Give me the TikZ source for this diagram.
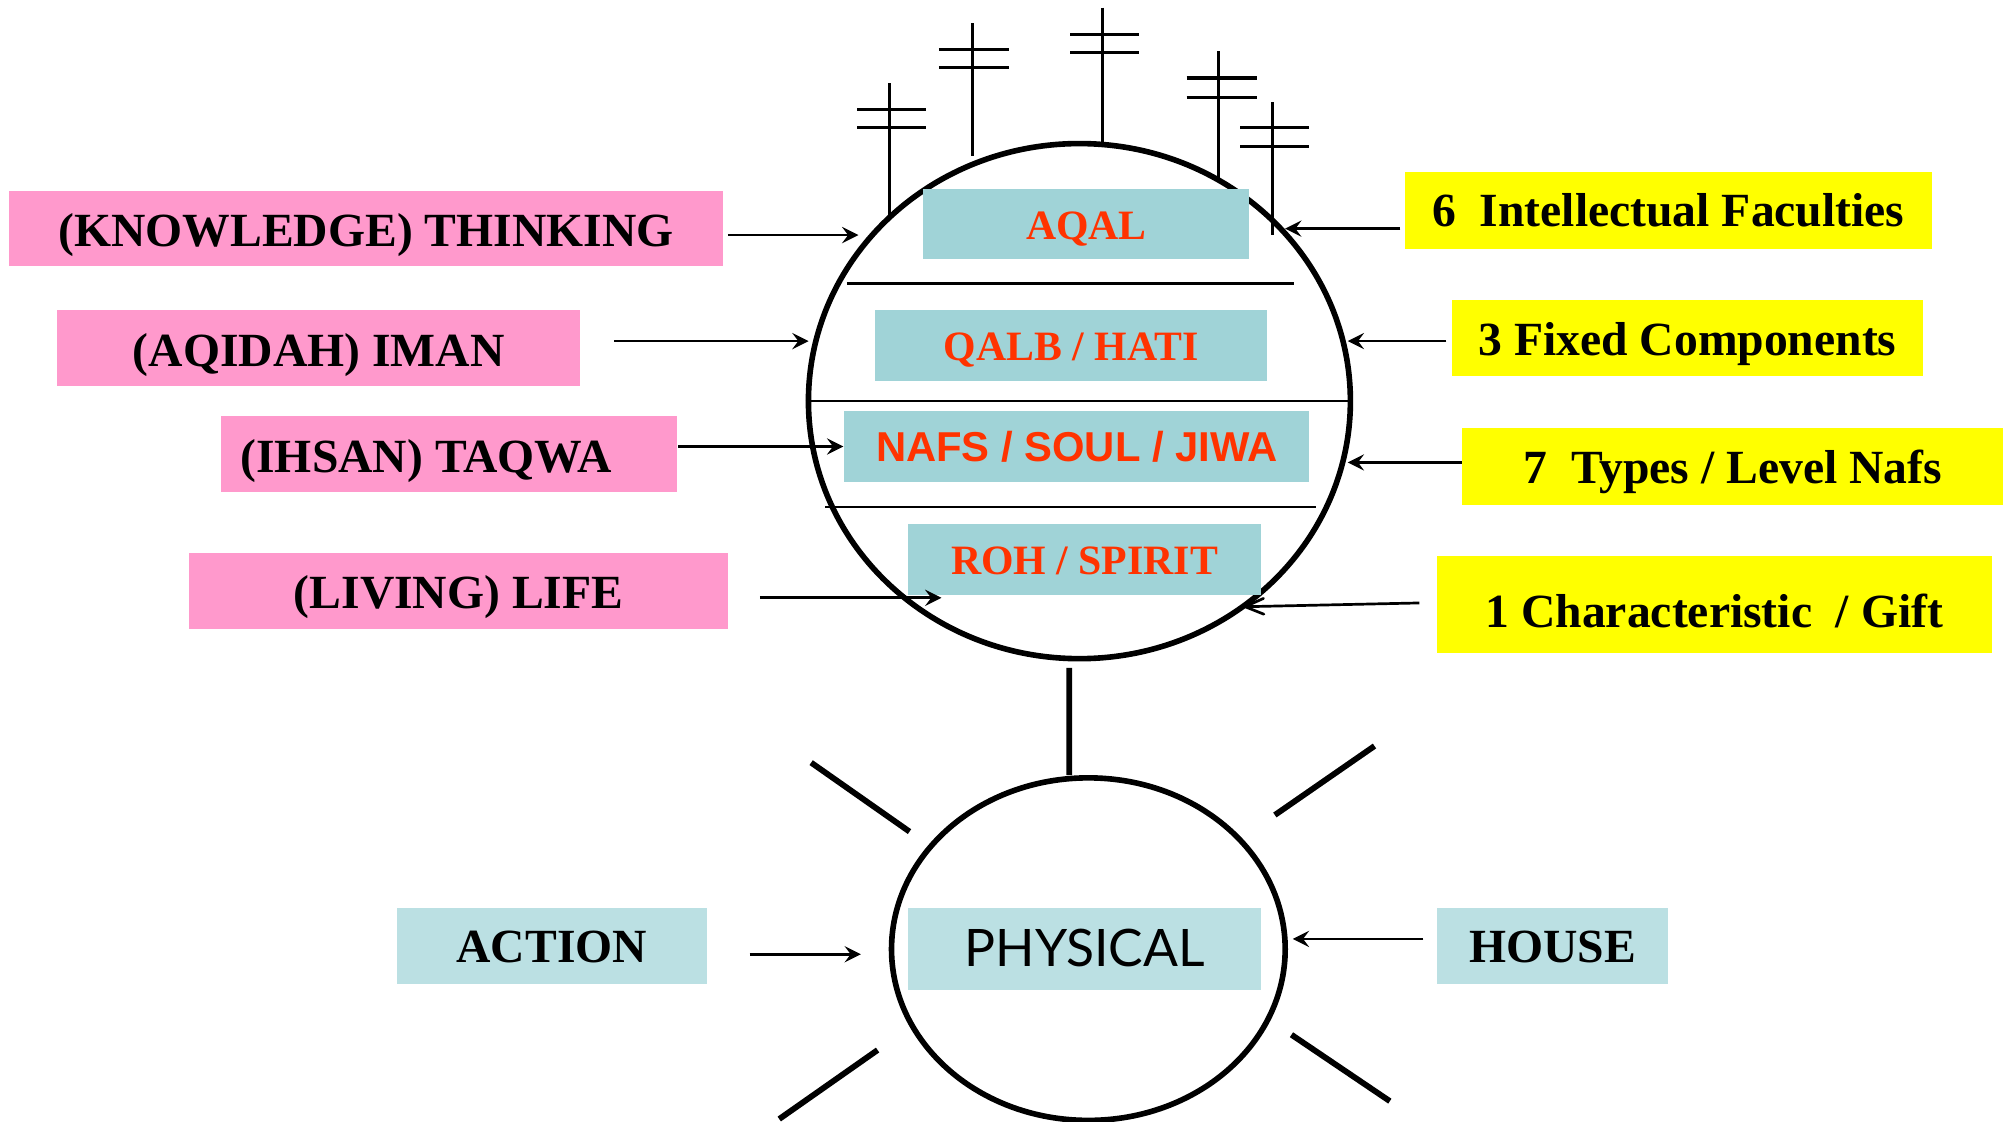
\documentclass[tikz,border=0pt]{standalone}
\usepackage{fontspec}
\setmainfont{Liberation Serif}
\newfontfamily\arialfont{Liberation Sans}
\newfontfamily\handfont{Lato}
\usetikzlibrary{shapes.geometric, arrows}
\definecolor{pinkfill}{HTML}{FF99CC}
\definecolor{yellowfill}{HTML}{FFFF00}
\definecolor{tealfill}{HTML}{A0D3D7}
\definecolor{lighttealfill}{HTML}{BBE0E3}
\definecolor{redtext}{HTML}{FF3300}
\tikzstyle{pinkbox} = [rectangle, inner sep=0pt, minimum height=0.59cm, text height=0.28cm, text depth=0pt, fill=pinkfill, font=\bfseries\fontsize{10.6}{12}\selectfont]
\tikzstyle{yellowbox} = [rectangle, inner sep=0pt, minimum height=0.6cm, text height=0.27cm, text depth=0pt, fill=yellowfill, font=\bfseries\fontsize{10.6}{12}\selectfont]
\tikzstyle{partbox} = [rectangle, inner sep=0pt, minimum height=0.55cm, text height=0.24cm, text depth=0pt, fill=tealfill, text=redtext, font=\bfseries\fontsize{9.3}{11}\selectfont]
\tikzstyle{bodybox} = [rectangle, inner sep=0pt, minimum height=0.59cm, text height=0.26cm, text depth=0pt, fill=lighttealfill, font=\bfseries\fontsize{10.6}{12}\selectfont]
\tikzstyle{ring} = [ellipse, draw, line width=1.25pt, inner sep=0pt]
\tikzstyle{arrow} = [line width=0.6pt,->,>=stealth]
\tikzstyle{openarrow} = [line width=0.6pt,->,>=angle 45]
\tikzstyle{divider} = [line width=0.6pt]
\tikzstyle{pole} = [line width=0.7pt]
\tikzstyle{ray} = [line width=1.3pt]

\begin{document}
\begin{tikzpicture}[x=0.01cm, y=-0.01cm]
        \useasboundingbox (0,0) rectangle (1568,878);
        \node [ring, minimum width=4.24cm, minimum height=4.03cm] at (845,314) (mind) {};
        \node [ring, minimum width=3.08cm, minimum height=2.68cm] at (852,743) (body) {};

        \draw [pole] (696,65) -- (696,170) (671,86) -- (725,86) (671,100) -- (725,100);
        \draw [pole] (761,18) -- (761,122) (735,39) -- (790,39) (735,53) -- (790,53);
        \draw [pole] (863,6) -- (863,111) (838,27) -- (892,27) (838,41) -- (892,41);
        \draw [pole] (954,40) -- (954,141) (929,61) -- (984,61) (929,76) -- (984,76);
        \draw [pole] (996,80) -- (996,184) (971,100) -- (1025,100) (971,115) -- (1025,115);

        \draw [divider] (663,222) -- (1013,222);
        \draw [divider] (mind.west) -- (mind.east);
        \draw [divider] (646,397) -- (1030,397);

        \node [partbox, minimum width=2.55cm] at (850.5,175.5) (aqal) {AQAL};
        \node [partbox, minimum width=3.07cm] at (838.5,270.5) (qalb) {QALB / HATI};
        \node [partbox, minimum width=3.64cm, font=\arialfont\bfseries\fontsize{9.3}{11}\selectfont] at (843,349.5) (nafs) {NAFS / SOUL / JIWA};
        \node [partbox, minimum width=2.76cm] at (849,438) (roh) {ROH / SPIRIT};

        \node [pinkbox, minimum width=5.59cm] at (286.5,179) (think) {(KNOWLEDGE) THINKING};
        \node [pinkbox, minimum width=4.09cm] at (249.5,272.5) (iman) {(AQIDAH) IMAN};
        \node [pinkbox, minimum width=3.57cm] at (351.5,355.5) (taqwa) {(IHSAN) TAQWA\kern0.36cm};
        \node [pinkbox, minimum width=4.22cm] at (359,462.5) (life) {(LIVING) LIFE};

        \node [yellowbox, minimum width=4.12cm, text height=0.25cm] at (1306,165) (faculty) {6\ \ Intellectual Faculties};
        \node [yellowbox, minimum width=3.68cm] at (1321,264.5) (fixed) {3 Fixed Components};
        \node [yellowbox, minimum width=4.23cm] at (1356.5,365) (types) {7\ \ Types / Level Nafs};
        \node [yellowbox, minimum width=4.34cm, minimum height=0.76cm, text height=0.37cm] at (1342,473) (gift) {1 Characteristic\ \ / Gift};

        \coordinate (thinkTip) at (672,184);
        \coordinate (imanTip) at (633,267);
        \coordinate (lifeTip) at (737,468);
        \coordinate (facultyTip) at (1006,179);
        \coordinate (fixedTip) at (1055,267);
        \coordinate (typesTip) at (1055,362);
        \coordinate (giftTip) at (972,475);
        \draw [arrow] (think.east |- thinkTip) ++(3,0) -- (thinkTip);
        \draw [arrow] (iman.east |- imanTip) ++(26,0) -- (imanTip);
        \draw [arrow] (taqwa.east |- nafs.west) -- (nafs.west);
        \draw [arrow] (life.east |- lifeTip) ++(24,0) -- (lifeTip);
        \draw [arrow] (faculty.west |- facultyTip) ++(-3,0) -- (facultyTip);
        \draw [arrow] (fixed.west |- fixedTip) ++(-4,0) -- (fixedTip);
        \draw [arrow] (types.west |- typesTip) -- (typesTip);
        \draw [openarrow] (gift.west) ++(-13,-1) -- (giftTip);

        \draw [ray] (mind.south) ++(-8,5) -- ([xshift=-0.15cm]body.north);
        \draw [ray] (635,597) -- (712,651);
        \draw [ray] (1076,584) -- (998,638);
        \draw [ray] (687,822) -- (610,876);
        \draw [ray] (1011,810) -- (1088,862);

        \node [bodybox, minimum width=2.76cm, minimum height=0.64cm, text height=0.27cm, font=\handfont\fontsize{11.5}{13}\selectfont] at (849,743) (physical) {PHYSICAL};
        \node [bodybox, minimum width=2.42cm] at (432,740.5) (action) {ACTION};
        \node [bodybox, minimum width=1.81cm] at (1215.5,740.5) (house) {HOUSE};
        \coordinate (actionTip) at (674,747);
        \coordinate (houseTip) at (1012,735);
        \draw [arrow] (action.east) ++(33,6.5) -- (actionTip);
        \draw [arrow] (house.west) ++(-10,-5.5) -- (houseTip);
        \end{tikzpicture}
\end{document}
